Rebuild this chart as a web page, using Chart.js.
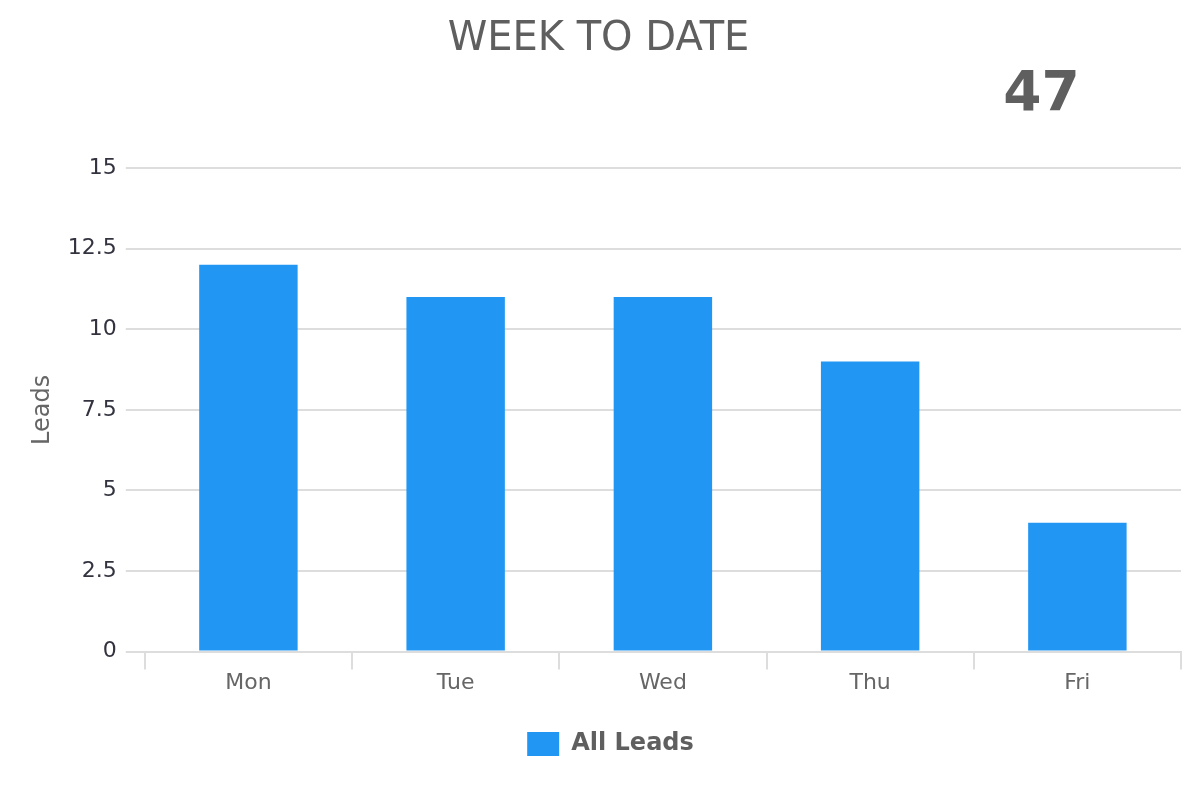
<!DOCTYPE html>
<html>
<head>
<meta charset="utf-8">
<script src="https://cdn.jsdelivr.net/npm/chart.js@4"></script>
<style>
  html, body { margin: 0; padding: 0; background: #fff; }
  #wrap { width: 1200px; height: 800px; }
</style>
</head>
<body>
<div id="wrap"><canvas id="chart"></canvas></div>
<script>
const days = ['Mon', 'Tue', 'Wed', 'Thu', 'Fri'];
const leads = [12, 11, 11, 9, 4];
const seriesLabel = 'All Leads';
const chartTitle = 'WEEK TO DATE';

const total = leads.reduce((a, b) => a + b, 0);

// big total figure under the title, right side
const totalPlugin = {
  id: 'totalFigure',
  afterDraw(chart) {
    const { ctx, width } = chart;
    ctx.save();
    ctx.font = 'bold 55px "DejaVu Sans", sans-serif';
    ctx.fillStyle = '#5f5f5f';
    ctx.textAlign = 'center';
    ctx.textBaseline = 'middle';
    ctx.fillText(String(total), width * 0.868, 96);
    ctx.restore();
  },
};

// legend sits a little right of centre in the original
const legendNudge = {
  id: 'legendNudge',
  afterLayout(chart) {
    chart.legend.left += 12;
    chart.legend.right += 12;
  },
};

Chart.defaults.font.family = '"DejaVu Sans", sans-serif';

new Chart(document.getElementById('chart').getContext('2d'), {
  type: 'bar',
  data: {
    labels: days,
    datasets: [
      {
        label: seriesLabel,
        data: leads,
        backgroundColor: '#2196f3',
        barPercentage: 1,
        categoryPercentage: 0.475,
      },
    ],
  },
  options: {
    responsive: true,
    maintainAspectRatio: false,
    animation: false,
    layout: { padding: { left: 16, right: 19, bottom: 34 } },
    plugins: {
      title: {
        display: true,
        text: chartTitle,
        color: '#5f5f5f',
        font: { size: 40, weight: 'normal' },
        padding: { top: 16, bottom: 104 },
      },
      legend: {
        position: 'bottom',
        labels: {
          boxWidth: 32,
          boxHeight: 24,
          color: '#5f5f5f',
          font: { size: 24, weight: 'bold' },
          padding: 36,
        },
      },
      tooltip: { enabled: false },
    },
    scales: {
      x: {
        offset: true,
        grid: {
          offset: true,
          drawOnChartArea: false,
          color: '#dddddd',
          lineWidth: 2,
          tickLength: 18,
        },
        border: { color: '#dddddd', width: 2 },
        ticks: { color: '#666666', font: { size: 22 }, padding: 0 },
      },
      y: {
        min: 0,
        max: 15,
        grid: { color: '#dddddd', lineWidth: 2, tickLength: 19 },
        border: { display: false },
        ticks: { stepSize: 2.5, color: '#333340', font: { size: 22 }, padding: 9 },
        title: {
          display: true,
          text: 'Leads',
          color: '#666666',
          font: { size: 24 },
          padding: { top: 12, bottom: 2 },
        },
      },
    },
  },
  plugins: [totalPlugin, legendNudge],
});
</script>
</body>
</html>
